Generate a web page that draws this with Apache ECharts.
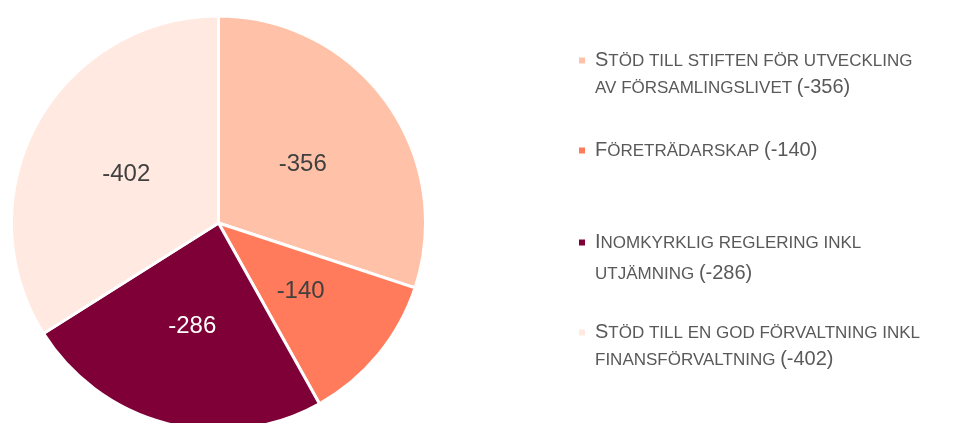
<!DOCTYPE html>
<html>
<head>
<meta charset="utf-8">
<script src="https://cdn.jsdelivr.net/npm/echarts@6/dist/echarts.min.js"></script>
<style>
  html, body { margin: 0; padding: 0; background: #fff; }
  #pie { width: 955px; height: 423px; }
</style>
</head>
<body>
<div id="pie"></div>
<script>
// kategorier (radbrytning som i förklaringen)
var categories = [
    'Stöd till stiften för utveckling\nav församlingslivet',
    'Företrädarskap',
    'Inomkyrklig reglering inkl\nutjämning',
    'Stöd till en god förvaltning inkl\nfinansförvaltning'
];
var values = [-356, -140, -286, -402];
var colors = ['#FFC2A8', '#FF7B5B', '#7E0036', '#FFE9E1'];
var labelColors = ['#404040', '#404040', '#ffffff', '#404040'];
var labelOffsets = [[-2, 4], [0, 1], [0, 0], [1, 3]];

var FONT = '"Liberation Sans", Arial, sans-serif';

// förklaringstext i kapitäler
function legendText(name) {
    var idx = categories.indexOf(name);
    var lines = name.split('\n');
    var out = lines.map(function (ln, i) {
        if (i === 0) {
            return '{big|' + ln.charAt(0) + '}{sc|' + ln.slice(1).toUpperCase() + '}';
        }
        return '{sc|' + ln.toUpperCase() + '}';
    });
    out[out.length - 1] += '{sc| }{big|(' + values[idx] + ')}';
    return out.join('\n');
}

function makeLegend(i, top, lh) {
    var twoLines = categories[i].indexOf('\n') >= 0;
    return {
        data: [categories[i]],
        orient: 'vertical',
        left: 577,
        top: top,
        padding: 0,
        itemWidth: 8,
        itemHeight: 8,
        icon: 'rect',
        selectedMode: false,
        formatter: legendText,
        textStyle: {
            color: '#595959',
            fontFamily: FONT,
            lineHeight: lh,
            padding: [twoLines ? lh : 0, 0, 0, 4],
            rich: {
                big: { fontSize: 20, fontFamily: FONT, color: '#595959', lineHeight: lh, verticalAlign: 'middle' },
                sc: { fontSize: 17, fontFamily: FONT, color: '#595959', height: lh - 2, verticalAlign: 'bottom' }
            }
        }
    };
}

var chart = echarts.init(document.getElementById('pie'));
chart.setOption({
    animation: false,
    color: colors,
    legend: [
        makeLegend(0, 20, 27),
        makeLegend(1, 137, 27),
        makeLegend(2, 196, 31),
        makeLegend(3, 292, 27)
    ],
    series: [
        {
            type: 'pie',
            center: [218.5, 223],
            radius: 207,
            startAngle: 90,
            clockwise: true,
            itemStyle: {
                borderColor: '#ffffff',
                borderWidth: 3
            },
            label: {
                show: true,
                position: 'inside',
                fontSize: 24,
                fontFamily: FONT
            },
            labelLine: { show: false },
            emphasis: { disabled: true },
            data: categories.map(function (c, i) {
                return {
                    name: c,
                    value: Math.abs(values[i]),
                    label: { formatter: String(values[i]), color: labelColors[i], offset: labelOffsets[i] }
                };
            })
        }
    ]
});
</script>
</body>
</html>
